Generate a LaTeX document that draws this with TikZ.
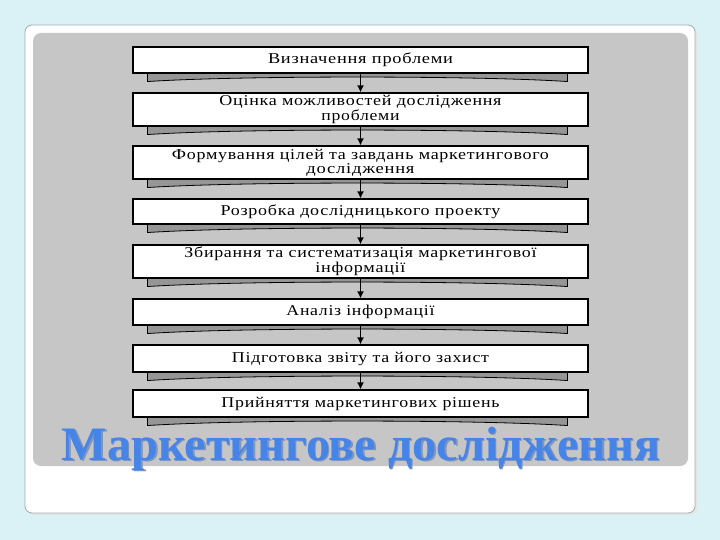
\documentclass[tikz,border=0pt]{standalone}
\usepackage{fontspec}
\usepackage{graphicx}
\setmainfont{Liberation Serif}
\usetikzlibrary{arrows.meta,calc}
\definecolor{bgcyan}{RGB}{218,242,246}
\definecolor{cardedge}{RGB}{160,170,182}
\definecolor{panelgrey}{RGB}{198,198,198}
\definecolor{ribbongrey}{RGB}{150,150,150}
\definecolor{titleblue}{RGB}{70,132,232}
\definecolor{titleshade}{RGB}{130,150,185}
\newcommand\lw[2]{\resizebox{#1pt}{\height}{\addfontfeature{LetterSpace=4}#2}}
\newcommand\ribbon[1]{%
  \path ([xshift=15pt]#1.south west) coordinate (rl)
        ([xshift=-21pt]#1.south east) coordinate (rr);
  \filldraw[fill=ribbongrey,draw=black,line width=0.8pt]
    (rl) -- ($(rl)+(0,8)$)
    .. controls ($(rl)+(90,2)$) and ($(rr)+(-90,2)$) .. ($(rr)+(0,8)$)
    -- (rr) -- cycle;}
\begin{document}
\begin{tikzpicture}[x=1pt,y=-1pt,
  stepbox/.style={draw=black,line width=1.1pt,fill=white,minimum width=455pt,
    inner sep=0pt,align=center,font=\fontsize{15}{11.5}\selectfont},
  flow/.style={draw=black,line width=1.4pt,-{Latex[length=7pt,width=7pt]}}]
\useasboundingbox (0,0) rectangle (720,540);
\fill[bgcyan] (0,0) rectangle (720,540);
\fill[black!10] (27,27) [rounded corners=7pt] rectangle (697,515);
\filldraw[fill=white,draw=cardedge,line width=0.8pt,rounded corners=7pt] (25,25) rectangle (695,513);
\fill[panelgrey,rounded corners=8pt] (33,33) rectangle (688,466);

\node[stepbox,minimum height=26pt] (b1) at (360.5,60) {\lw{185}{Визначення проблеми}};
\node[stepbox,minimum height=33pt] (b2) at (360.5,109.5) {\lw{282}{Оцінка можливостей дослідження}\\\lw{78}{проблеми}};
\node[stepbox,minimum height=33pt] (b3) at (360.5,162.5) {\lw{377}{Формування цілей та завдань маркетингового}\\\lw{108}{дослідження}};
\node[stepbox,minimum height=25pt] (b4) at (360.5,211.5) {\lw{280}{Розробка дослідницького проекту}};
\node[stepbox,minimum height=33pt] (b5) at (360.5,261.5) {\lw{352}{Збирання та систематизація маркетингової}\\\lw{90}{інформації}};
\node[stepbox,minimum height=26pt] (b6) at (360.5,312) {\lw{148}{Аналіз інформації}};
\node[stepbox,minimum height=27pt] (b7) at (360.5,358.5) {\lw{257}{Підготовка звіту та його захист}};
\node[stepbox,minimum height=27pt] (b8) at (360.5,403.5) {\lw{278}{Прийняття маркетингових рішень}};

\foreach \b in {b1,b2,b3,b4,b5,b6,b7,b8} {\ribbon{\b}}
\foreach \b in {b1,b2,b3,b4,b5,b6,b7,b8} {
  \draw[line width=1.1pt] (\b.south west) rectangle (\b.north east);}

\draw[flow] (b1) -- (b2);
\draw[flow] (b2) -- (b3);
\draw[flow] (b3) -- (b4);
\draw[flow] (b4) -- (b5);
\draw[flow] (b5) -- (b6);
\draw[flow] (b6) -- (b7);
\draw[flow] (b7) -- (b8);

\node[anchor=base,inner sep=0pt,text=titleshade,font=\fontsize{48}{48}\selectfont\bfseries] (tsh) at (362.5,461.5) {\resizebox{598pt}{\height}{Маркетингове дослідження}};
\node[anchor=base,inner sep=0pt,text=titleblue,font=\fontsize{48}{48}\selectfont\bfseries] (title) at (361,460) {\resizebox{598pt}{\height}{Маркетингове дослідження}};
\end{tikzpicture}
\end{document}
